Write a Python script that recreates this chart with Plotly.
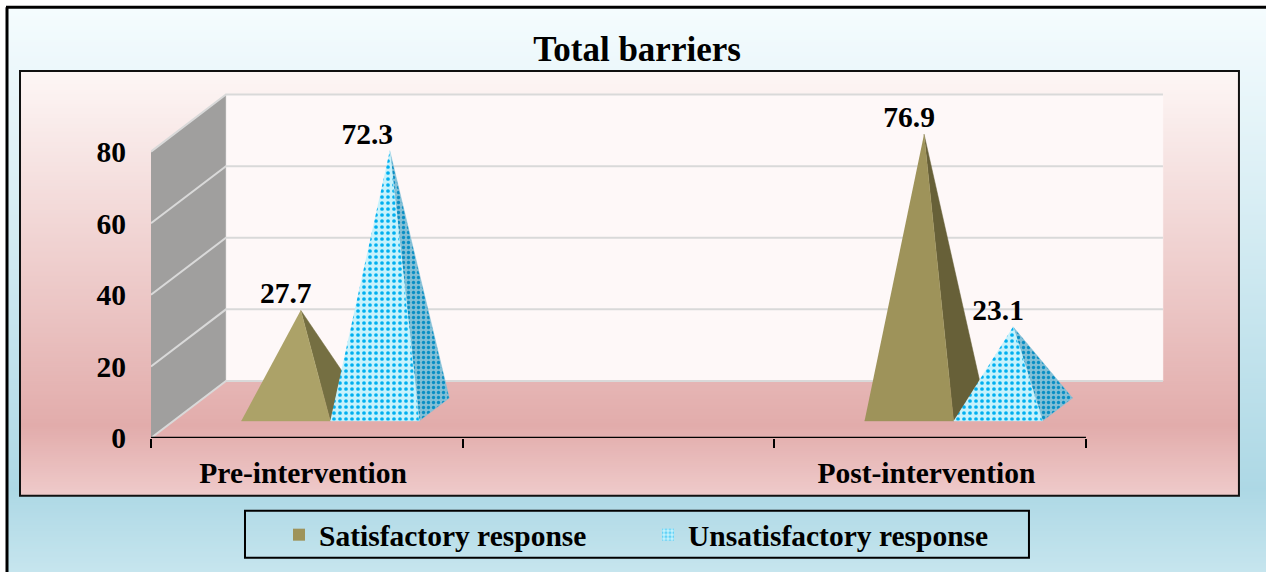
import plotly.graph_objects as go

# ---------- data ----------
categories = ["Pre-intervention", "Post-intervention"]
category_positions = [0, 2]
series_names = ["Satisfactory response", "Unsatisfactory response"]
satisfactory = [27.7, 76.9]
unsatisfactory = [72.3, 23.1]
y_ticks = [0, 20, 40, 60, 80]
x_boundaries = [-0.5, 0.5, 1.5, 2.5]

# ---------- style / geometry ----------
W, H = 1266, 572
X_MAX, Y_MAX = 2.76, 100
L, B = 151, 439
UNIT_X, UNIT_Y = 311.67, 3.59
R = L + (X_MAX - x_boundaries[0]) * UNIT_X
T = B - Y_MAX * UNIT_Y
FONT = "Liberation Serif"
FS = 29.5
DEPTH_X, DEPTH_Y = 0.2406, 15.94      # oblique offset of the back plane
BACK_RIGHT_X = 2.5 + 0.247
BAR_W = 0.2856
BAR_SHIFT = 0.003
D_FRONT, D_BACK = 0.30, 0.70
D_MID = (D_FRONT + D_BACK) / 2
SAT_FRONT = ["#ACA268", "#9E935A"]
SAT_SIDE = ["#756F42", "#676038"]
UNS_BG, UNS_FG = "#C6F2FC", "#00B0F0"
UNS_SIDE_BG, UNS_SIDE_FG = "#82BFD6", "#0A8FC4"


def px(x):
    return (x - L) / (R - L)


def py(y):
    return 1 - (y - T) / (B - T)


def lerp(stops, y):
    for (y0, c0), (y1, c1) in zip(stops, stops[1:]):
        if y <= y1:
            t = max(0, (y - y0) / (y1 - y0))
            rgb = [round(c0[i] + (c1[i] - c0[i]) * t) for i in range(3)]
            return "rgb(%d,%d,%d)" % tuple(rgb)
    return "rgb(%d,%d,%d)" % stops[-1][1]


OUTER = [(8, (245, 252, 254)), (490, (173, 216, 229)), (572, (198, 229, 238))]
INNER = [(72, (253, 246, 245)), (426, (226, 172, 171)), (497, (239, 203, 203))]

shapes = []


def strips(x0, x1, y0, y1, stops, step=2):
    y = y0
    while y < y1:
        shapes.append(dict(type="rect", xref="paper", yref="paper", layer="below",
                           x0=px(x0), x1=px(x1), y0=py(y), y1=py(y1),
                           fillcolor=lerp(stops, y), line_width=0))
        y += step


strips(8, W + 2, 8, H + 2, OUTER)
strips(20, 1239, 72, 497, INNER)


def frame_line(x0, y0, x1, y1, w=3):
    shapes.append(dict(type="line", xref="paper", yref="paper", layer="below",
                       x0=px(x0), x1=px(x1), y0=py(y0), y1=py(y1),
                       line=dict(color="#000000", width=w)))


frame_line(7, 7, 7, H + 2)
frame_line(6, 7, W + 2, 7)
shapes.append(dict(type="rect", xref="paper", yref="paper", layer="below",
                   x0=px(20), x1=px(1239), y0=py(71), y1=py(497),
                   line=dict(color="#111111", width=2)))
shapes.append(dict(type="rect", xref="paper", yref="paper", layer="below",
                   x0=px(245), x1=px(1029), y0=py(512), y1=py(559),
                   line=dict(color="#000000", width=2)))

fig = go.Figure()


def poly(xs, ys, color, pattern=None, line=None):
    fig.add_trace(go.Scatter(
        x=xs, y=ys, mode="lines", fill="toself", fillcolor=color,
        fillpattern=pattern, line=dict(width=0.5, color=line or color),
        showlegend=False, hoverinfo="skip", cliponaxis=False))


xl, xb = x_boundaries[0], x_boundaries[0] + DEPTH_X
xr = x_boundaries[-1]
top = y_ticks[-1]
# back wall and side wall (the floor has no fill of its own)
poly([xb, BACK_RIGHT_X, BACK_RIGHT_X, xb], [DEPTH_Y, DEPTH_Y, top + DEPTH_Y, top + DEPTH_Y], "#FEF8F8")
poly([xl, xb, xb, xl], [0, DEPTH_Y, top + DEPTH_Y, top], "#A09F9E", line="#D9D9D9")

# grid lines
for v in y_ticks:
    fig.add_trace(go.Scatter(
        x=[xl, xb, BACK_RIGHT_X], y=[v, v + DEPTH_Y, v + DEPTH_Y], mode="lines",
        line=dict(color="#D9D9D9", width=2), showlegend=False, hoverinfo="skip", cliponaxis=False))

# category axis base line
fig.add_trace(go.Scatter(x=[xl, xr], y=[0, 0], mode="lines", line=dict(color="#000000", width=2.5),
                         showlegend=False, hoverinfo="skip", cliponaxis=False))


def pyramid(left, value, front, side, front_pat=None, side_pat=None):
    x0 = left + D_FRONT * DEPTH_X
    x1 = x0 + BAR_W
    xback = x1 + (D_BACK - D_FRONT) * DEPTH_X
    ax = (x0 + x1) / 2 + (D_MID - D_FRONT) * DEPTH_X
    ay = value + D_MID * DEPTH_Y
    yf, yb = D_FRONT * DEPTH_Y, D_BACK * DEPTH_Y
    poly([x1, xback, ax], [yf, yb, ay], side, pattern=side_pat)
    poly([x0, x1, ax], [yf, yf, ay], front, pattern=front_pat)
    return (x0 + x1) / 2, ay


uns_pat = dict(shape=".", bgcolor=UNS_BG, fgcolor=UNS_FG, size=6, solidity=0.3, fillmode="replace")
uns_side = dict(shape=".", bgcolor=UNS_SIDE_BG, fgcolor=UNS_SIDE_FG, size=5, solidity=0.35, fillmode="replace")

lab_x, lab_y, lab_t = [], [], []
for i, c in enumerate(category_positions):
    left = c + BAR_SHIFT - BAR_W
    mx, ay = pyramid(left, satisfactory[i], SAT_FRONT[i], SAT_SIDE[i])
    lab_x.append(mx); lab_y.append(ay + 4.0); lab_t.append(f"{satisfactory[i]}")
    mx, ay = pyramid(c + BAR_SHIFT, unsatisfactory[i], UNS_BG, UNS_SIDE_BG, uns_pat, uns_side)
    lab_x.append(mx - (0.024 if i == 0 else 0)); lab_y.append(ay + 4.0); lab_t.append(f"{unsatisfactory[i]}")

# data labels
fig.add_trace(go.Scatter(x=lab_x, y=lab_y, text=lab_t, mode="text", textposition="middle center",
                         textfont=dict(family=FONT, size=FS, color="#000000", weight="bold"),
                         showlegend=False, hoverinfo="skip", cliponaxis=False))

# legend carriers: no drawn bars, only the legend swatches
fig.add_trace(go.Bar(x=category_positions, y=[None, None], name=series_names[0],
                     marker=dict(color="#9E935A", line_width=0), hoverinfo="skip"))
fig.add_trace(go.Bar(x=category_positions, y=[None, None], name=series_names[1],
                     marker=dict(color="#DFF6FC", line_width=0,
                                 pattern=dict(shape=".", bgcolor="#C6F2FC", fgcolor=UNS_FG, size=5, solidity=0.5)),
                     hoverinfo="skip"))

# second x axis carrying the category labels
fig.add_trace(go.Scatter(x=category_positions, y=[0, 0], xaxis="x2", mode="lines",
                         line=dict(width=0), showlegend=False, hoverinfo="skip"))

fig.update_layout(
    width=W, height=H, autosize=False,
    margin=dict(l=L, r=W - R, t=T, b=H - B, pad=0),
    paper_bgcolor="#FFFFFF", plot_bgcolor="rgba(0,0,0,0)",
    font=dict(family=FONT, color="#000000"),
    title=dict(text="<b>Total barriers</b>", x=637 / W, xref="container", xanchor="center",
               y=1 - 49 / H, yref="container", yanchor="middle",
               font=dict(family=FONT, size=35, color="#000000")),
    xaxis=dict(type="linear", range=[x_boundaries[0], X_MAX], tickmode="array",
               tickvals=x_boundaries, ticktext=[""] * 4, ticks="outside", ticklen=9, tickwidth=2,
               tickcolor="#000000", showline=False,
               showgrid=False, zeroline=False, fixedrange=True),
    xaxis2=dict(type="linear", range=[x_boundaries[0] + 0.012, X_MAX + 0.012], overlaying="x", side="bottom",
                tickmode="array", tickvals=category_positions, ticktext=categories, ticks="",
                showgrid=False, zeroline=False, showline=False, ticklabelstandoff=14, fixedrange=True,
                tickfont=dict(family=FONT, size=FS, weight="bold", color="#000000")),
    yaxis=dict(range=[y_ticks[0], Y_MAX], tickmode="array", tickvals=y_ticks,
               showgrid=False, zeroline=False, showline=False, ticks="", ticklabelstandoff=24,
               fixedrange=True, tickfont=dict(family=FONT, size=FS, weight="bold", color="#000000")),
    legend=dict(orientation="h", x=px(279), xanchor="left", y=py(535), yanchor="middle",
                bgcolor="rgba(0,0,0,0)", borderwidth=0, itemclick=False, itemdoubleclick=False,
                entrywidth=324, entrywidthmode="pixels", traceorder="normal",
                font=dict(family=FONT, size=FS, weight="bold", color="#000000")),
    shapes=shapes,
    showlegend=True,
    barmode="overlay",
)

fig.write_html("out.html", config=dict(displayModeBar=False),
               post_script="document.body.style.margin='0';document.documentElement.style.overflow='hidden';")
